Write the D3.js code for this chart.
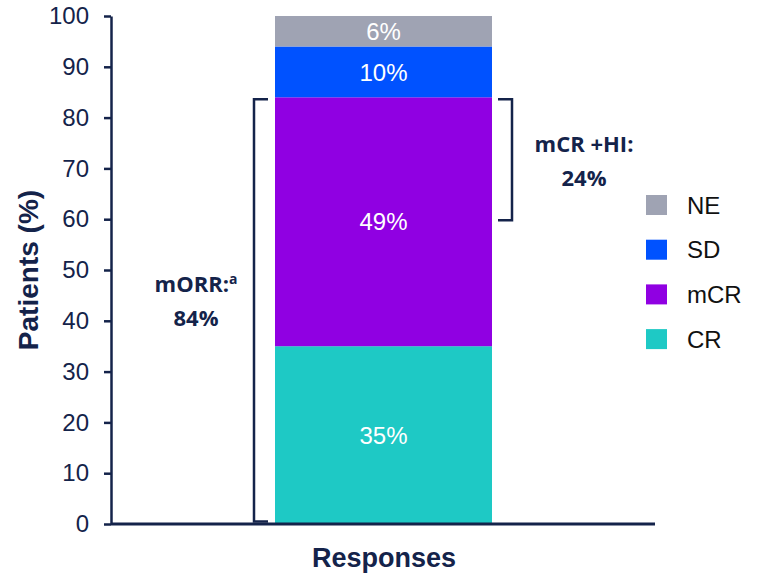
<!DOCTYPE html>
<html>
<head>
<meta charset="utf-8">
<script src="https://cdn.jsdelivr.net/npm/d3@7"></script>
<style>
  body { margin: 0; background: #fff; }
  svg text { font-family: "Liberation Sans", Arial, sans-serif; }
</style>
</head>
<body>
<svg id="chart" width="759" height="573"></svg>
<script>
// chart data
let categories = ["Responses"]
let seriesNames = ["CR", "mCR", "SD", "NE"]
let seriesValues = [35, 49, 10, 6]
let seriesLabels = ["35%", "49%", "10%", "6%"]
let seriesColors = ["#1ec9c5", "#9000e2", "#0052ff", "#9fa3b3"]
let legendOrder = ["NE", "SD", "mCR", "CR"]
let yTicks = [0, 10, 20, 30, 40, 50, 60, 70, 80, 90, 100]
let brackets = [
    {from: 0.5, to: 83.6, side: "left", lines: ["mORR:", "84%"]},
    {from: 59.8, to: 83.6, side: "right", lines: ["mCR +HI:", "24%"]}
]

let navy = "#14234a"
let svg = d3.select("#chart")

let margin = {left: 111, top: 16, bottom: 49}
let height = 573 - margin.top - margin.bottom

let y = d3.scaleLinear().domain([0, 100]).range([height + margin.top, margin.top])
// bar spans 275..492
let barX = 275, barW = 217

let color = d3.scaleOrdinal().domain(seriesNames).range(seriesColors)

// stacked series
let row = {cat: categories[0]}
seriesNames.forEach(function (n, i) { row[n] = seriesValues[i] })
let stacked = d3.stack().keys(seriesNames)([row])

let segs = svg.append("g")
    .selectAll("g")
    .data(stacked)
    .enter()
    .append("g")

segs.append("rect")
    .attr("x", barX)
    .attr("width", barW)
    .attr("y", function (d) { return y(d[0][1]) })
    .attr("height", function (d) { return y(d[0][0]) - y(d[0][1]) })
    .attr("fill", function (d) { return color(d.key) })

segs.append("text")
    .attr("x", barX + barW / 2)
    .attr("y", function (d) { return (y(d[0][0]) + y(d[0][1])) / 2 })
    .attr("dy", "0.36em")
    .attr("text-anchor", "middle")
    .attr("fill", "#fff")
    .style("font-size", "24px")
    .text(function (d, i) { return seriesLabels[i] })

// y axis
let yAxis = svg.append("g")
    .attr("transform", `translate(${margin.left},0)`)
    .call(d3.axisLeft(y).tickValues(yTicks).tickSize(7).tickSizeOuter(0).tickPadding(15))
yAxis.select(".domain").attr("stroke", navy).attr("stroke-width", 2.5)
yAxis.selectAll(".tick line").attr("stroke", navy).attr("stroke-width", 2.5)
yAxis.selectAll(".tick text")
    .attr("fill", navy)
    .style("font-size", "24px")
    .style("font-family", "'Liberation Sans', Arial, sans-serif")

// x axis line
svg.append("line")
    .attr("x1", margin.left).attr("x2", 655)
    .attr("y1", y(0)).attr("y2", y(0))
    .attr("stroke", navy).attr("stroke-width", 3)

// axis titles
svg.append("text")
    .attr("transform", `translate(38,${(y(0) + y(100)) / 2}) rotate(-90)`)
    .attr("text-anchor", "middle")
    .attr("fill", navy)
    .style("font-size", "28px")
    .style("font-weight", "bold")
    .text("Patients (%)")

svg.append("text")
    .attr("x", 384)
    .attr("y", 567)
    .attr("text-anchor", "middle")
    .attr("fill", navy)
    .style("font-size", "27px")
    .style("font-weight", "bold")
    .text(categories[0])

// brackets
brackets.forEach(function (b) {
    let xs = b.side === "left" ? 254 : 512
    let xe = b.side === "left" ? 268 : 498
    svg.append("path")
        .attr("d", `M${xe},${y(b.to)}H${xs}V${y(b.from)}H${xe}`)
        .attr("fill", "none")
        .attr("stroke", navy)
        .attr("stroke-width", 2.5)
    let cx = b.side === "left" ? 196 : 584
    let cy = b.side === "left" ? 292 : 152
    let t = svg.append("text")
        .attr("x", cx)
        .attr("y", cy)
        .attr("text-anchor", "middle")
        .attr("fill", navy)
        .style("font-size", "22px")
        .style("font-weight", "bold")
        .style("font-family", "'Open Sans', 'Noto Sans', sans-serif")
    t.append("tspan").text(b.lines[0])
    if (b.side === "left") {
        t.append("tspan").attr("dy", "-0.55em").style("font-size", "14px").text("a")
    }
    svg.append("text")
        .attr("x", cx)
        .attr("y", cy + 34)
        .attr("text-anchor", "middle")
        .attr("fill", navy)
        .style("font-size", "22px")
        .style("font-weight", "bold")
        .style("font-family", "'Open Sans', 'Noto Sans', sans-serif")
        .text(b.lines[1])
})

// legend
let legend = svg.append("g")
    .selectAll("g")
    .data(legendOrder)
    .enter()
    .append("g")
    .attr("transform", function (d, i) { return `translate(646,${195 + i * 44.7})` })

legend.append("rect")
    .attr("width", 21)
    .attr("height", 20)
    .attr("fill", function (d) { return color(d) })

legend.append("text")
    .attr("x", 41)
    .attr("y", 10)
    .attr("dy", "0.36em")
    .attr("fill", "#111")
    .style("font-size", "24px")
    .text(function (d) { return d })
</script>
</body>
</html>
